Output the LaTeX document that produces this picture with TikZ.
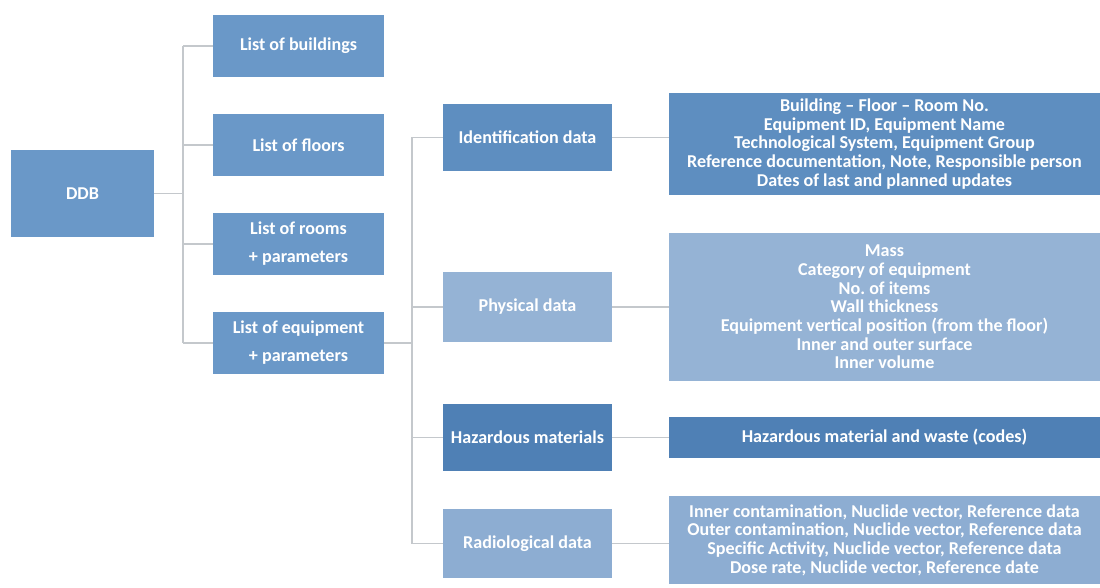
\documentclass[tikz,border=0pt]{standalone}
\usepackage{fontspec}
\setmainfont{Carlito}
\usepackage{tikz}
\usetikzlibrary{positioning,calc}

\definecolor{midblue}{HTML}{6A98C8}
\definecolor{idblue}{HTML}{5E8EC0}
\definecolor{physblue}{HTML}{95B3D5}
\definecolor{hazblue}{HTML}{4F80B5}
\definecolor{radblue}{HTML}{8DADD2}
\definecolor{linegray}{HTML}{C4C8CC}

\begin{document}
\begin{tikzpicture}[x=0.02cm, y=-0.02cm]
\tikzstyle{box}=[draw=none, shape=rectangle, text=white, align=center, font=\bfseries\fontsize{10.3}{10.6}\selectfont, inner sep=2pt]
\tikzstyle{listbox}=[box, fill=midblue, minimum width=3.42cm, minimum height=1.24cm, font=\bfseries\fontsize{10.3}{16}\selectfont]
\tikzstyle{groupbox}=[box, minimum width=3.38cm]
\tikzstyle{detail}=[box, minimum width=8.62cm]
\tikzstyle{link}=[draw=linegray, line width=1pt]
\useasboundingbox (0,0) rectangle (1100,588);

% root and first level
\node[box, fill=midblue, minimum width=2.86cm, minimum height=1.74cm] (ddb) at (82.5,193.5) {DDB};
\node[listbox] (build) at (298.5,46) {List of buildings};
\node[listbox] (floor) [below=0.725cm of build] {List of floors};
\node[listbox] (room) [below=0.725cm of floor] {List of rooms\\+ parameters};
\node[listbox] (equip) [below=0.725cm of room] {List of equipment\\+ parameters};

% second level
\node[groupbox, fill=idblue, minimum height=1.34cm] (ident) at (527.5,137.5) {Identification data};
\node[groupbox, fill=physblue, minimum height=1.4cm] (phys) at (527.5,307) {Physical data};
\node[groupbox, fill=hazblue, minimum height=1.34cm] (haz) at (527.5,437.5) {Hazardous materials};
\node[groupbox, fill=radblue, minimum height=1.38cm] (rad) at (527.5,543.5) {Radiological data};

% details
\node[detail, fill=idblue, minimum height=2.04cm] (identdet) at (884.5,144) {Building – Floor – Room No.\\Equipment ID, Equipment Name\\Technological System, Equipment Group\\Reference documentation, Note, Responsible person\\Dates of last and planned updates};
\node[detail, fill=physblue, minimum height=2.96cm] (physdet) at (884.5,307) {Mass\\Category of equipment\\No.\ of items\\Wall thickness\\Equipment vertical position (from the floor)\\Inner and outer surface\\Inner volume};
\node[detail, fill=hazblue, minimum height=0.82cm] (hazdet) at (884.5,437.5) {Hazardous material and waste (codes)};
\node[detail, fill=radblue, minimum height=1.76cm] (raddet) at (884.5,540) {Inner contamination, Nuclide vector, Reference data\\Outer contamination, Nuclide vector, Reference data\\Specific Activity, Nuclide vector, Reference data\\Dose rate, Nuclide vector, Reference date};

% tree lines
\draw[link] (ddb.east) -- ++(29,0) coordinate (trunk1);
\draw[link] (trunk1 |- build.west) -- (trunk1 |- equip.west);
\foreach \n in {build,floor,room,equip}
  \draw[link] (trunk1 |- \n.west) -- (\n.west);
\draw[link] (equip.east) -- ++(28,0) coordinate (trunk2);
\draw[link] (trunk2 |- ident.west) -- (trunk2 |- rad.west);
\foreach \n in {ident,phys,haz,rad}{
  \draw[link] (trunk2 |- \n.west) -- (\n.west);
  \draw[link] (\n.east) -- (\n.east -| \n det.west);
}
\end{tikzpicture}
\end{document}
